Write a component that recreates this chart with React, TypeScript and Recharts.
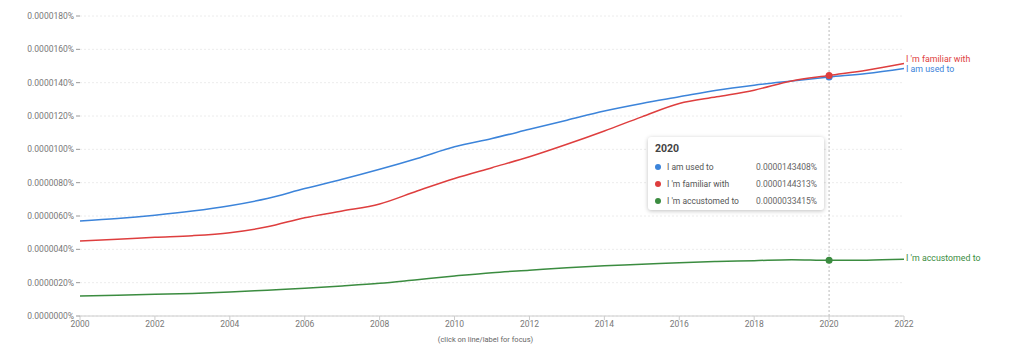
import React from "react";
import { LineChart, Line, XAxis, YAxis, CartesianGrid, ReferenceLine, ReferenceDot } from "recharts";

const years = [2000,2001,2002,2003,2004,2005,2006,2007,2008,2009,2010,2011,2012,2013,2014,2015,2016,2017,2018,2019,2020,2021,2022];
// values in units of 0.000001%
const usedTo = [5.7,5.85,6.05,6.3,6.62,7.05,7.65,8.2,8.8,9.45,10.15,10.65,11.2,11.75,12.3,12.75,13.15,13.55,13.85,14.1,14.3408,14.55,14.85];
const familiar = [4.5,4.6,4.72,4.82,5.0,5.35,5.9,6.3,6.72,7.5,8.25,8.9,9.55,10.3,11.1,11.95,12.75,13.15,13.55,14.1,14.4313,14.75,15.15];
const accustomed = [1.2,1.25,1.3,1.35,1.44,1.55,1.66,1.8,1.96,2.18,2.4,2.6,2.75,2.9,3.02,3.1,3.2,3.27,3.32,3.38,3.3415,3.35,3.4];
const yTicks = [0,2,4,6,8,10,12,14,16,18];
const xTicks = [2000,2002,2004,2006,2008,2010,2012,2014,2016,2018,2020,2022];
const focusYear = 2020;
const seriesNames = ["I am used to", "I 'm familiar with", "I 'm accustomed to"];
const tooltipValues = ["0.0000143408%", "0.0000144313%", "0.0000033415%"];

const BLUE = "#3c84da";
const RED = "#de3e3e";
const GREEN = "#3b8c40";
const TEXT = "#777";

const data = years.map((y, i) => ({
  year: y,
  used: usedTo[i] / 1e6,
  fam: familiar[i] / 1e6,
  acc: accustomed[i] / 1e6,
}));

const fmt = (v: number) => v.toFixed(7) + "%";

const endLabel = (text: string, color: string, dy: number) => (props: any) => {
  const { x, y, index } = props;
  if (index !== years.length - 1) return null;
  return (
    <text x={x + 2} y={y + dy} fill={color} fontSize={8.8} fontFamily="Roboto, sans-serif" dominantBaseline="middle">
      {text}
    </text>
  );
};

export default function App() {
  const fi = years.indexOf(focusYear);
  const colors = [BLUE, RED, GREEN];
  return (
    <div style={{ position: "relative", width: 1008, height: 347, fontFamily: "Roboto, sans-serif" }}>
      <LineChart width={1008} height={347} data={data} margin={{ top: 8, right: 112, left: 0, bottom: 19 }}>
        <CartesianGrid vertical={false} stroke="#ececec" strokeDasharray="2 2" />
        <XAxis
          dataKey="year"
          type="number"
          domain={[2000, 2022]}
          ticks={xTicks}
          stroke="#ccc"
          tickSize={4}
          tickMargin={1}
          height={20}
          tick={{ fill: TEXT, fontSize: 8.5 }}
        />
        <YAxis
          type="number"
          domain={[0, 0.000018]}
          ticks={yTicks.map((t) => t / 1e6)}
          tickFormatter={fmt}
          axisLine={false}
          tickLine={{ stroke: "#999" }}
          tickSize={4}
          tickMargin={2}
          width={72}
          tick={{ fill: TEXT, fontSize: 8.5 }}
        />
        <ReferenceLine x={focusYear} stroke="#bbb" strokeDasharray="2 2" />
        <Line type="monotone" dataKey="acc" stroke={GREEN} strokeWidth={1.5} dot={false} isAnimationActive={false} label={endLabel(seriesNames[2], GREEN, -1)} />
        <Line type="monotone" dataKey="used" stroke={BLUE} strokeWidth={1.5} dot={false} isAnimationActive={false} label={endLabel(seriesNames[0], BLUE, 1)} />
        <Line type="monotone" dataKey="fam" stroke={RED} strokeWidth={1.5} dot={false} isAnimationActive={false} label={endLabel(seriesNames[1], RED, -4)} />
        <ReferenceDot x={focusYear} y={data[fi].acc} r={3.5} fill={GREEN} stroke="none" />
        <ReferenceDot x={focusYear} y={data[fi].used} r={3.5} fill={BLUE} stroke="none" />
        <ReferenceDot x={focusYear} y={data[fi].fam} r={3.5} fill={RED} stroke="none" />
      </LineChart>
      <div
        style={{
          position: "absolute",
          left: 640,
          top: 129,
          width: 176,
          height: 73,
          background: "#fff",
          borderRadius: 3,
          boxShadow: "0 1px 4px rgba(0,0,0,0.25)",
          boxSizing: "border-box",
          padding: "5px 7px 0 7px",
          fontSize: 8.5,
          color: "#555",
          whiteSpace: "nowrap",
        }}
      >
        <div style={{ fontWeight: 700, fontSize: 10.5, color: "#444", marginBottom: 3 }}>{focusYear}</div>
        {seriesNames.map((n, i) => (
          <div key={n} style={{ display: "flex", alignItems: "center", height: 17 }}>
            <span style={{ width: 6, height: 6, borderRadius: 3, background: colors[i], marginRight: 6, marginLeft: 0, flexShrink: 0 }} />
            <span style={{ flex: 1 }}>{n}</span>
            <span style={{ color: "#666" }}>{tooltipValues[i]}</span>
          </div>
        ))}
      </div>
      <div style={{ position: "absolute", left: 0, width: 955, top: 327, textAlign: "center", fontSize: 7.5, color: "#666" }}>
        (click on line/label for focus)
      </div>
    </div>
  );
}
